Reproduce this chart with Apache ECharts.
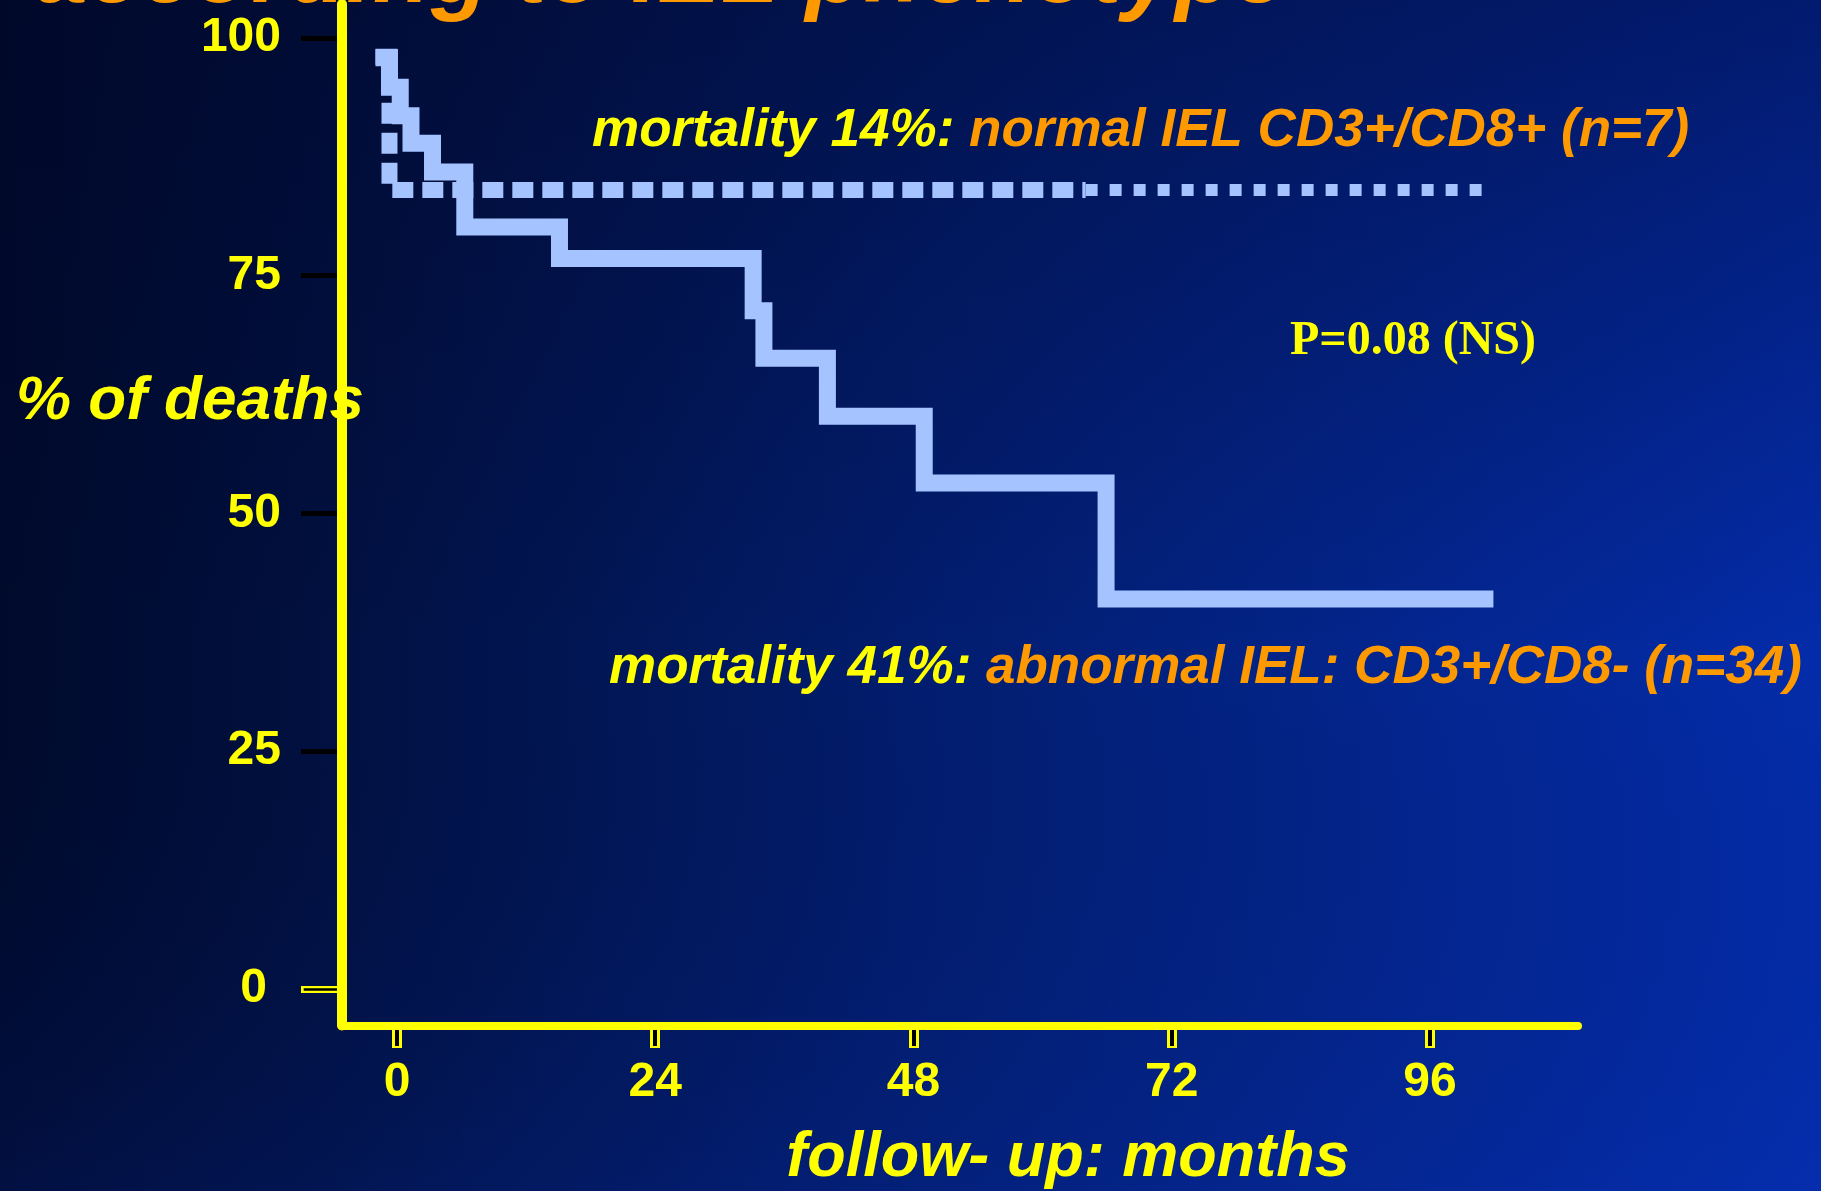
<!DOCTYPE html>
<html>
<head>
<meta charset="utf-8">
<title>Mortality according to IEL phenotype</title>
<script src="https://cdn.jsdelivr.net/npm/echarts@6/dist/echarts.min.js"></script>
<style>
  html, body { margin: 0; padding: 0; background: #010f45; }
  #chart { width: 1821px; height: 1191px; }
</style>
</head>
<body>
<div id="chart"></div>
<script>
// Kaplan-Meier style curves: follow-up month of each step and % still alive after it
const abnormalMonths = [-2.0, -0.7, 0.3, 1.3, 3.3, 6.3, 15.1, 33.1, 34.1, 40.0, 49.0, 65.9, 101.9];
const abnormalPct    = [97.9, 94.8, 91.8, 88.9, 85.9, 80.1, 76.8, 71.3, 66.3, 60.2, 53.2, 41.0, 41.0];
const normalMonths   = [-2.0, -0.7, 100.8];
const normalPct      = [98.0, 84.0, 84.0];

// Axis ticks
const monthTicks = [0, 24, 48, 72, 96];
const pctTicks   = [0, 25, 50, 75, 100];

// Texts
const titleText  = 'according to IEL phenotype';
const yName      = '% of deaths';
const xName      = 'follow- up: months';
const normalNote = ['mortality 14%: ', 'normal IEL CD3+/CD8+ (n=7)'];
const abnormNote = ['mortality 41%: ', 'abnormal IEL: CD3+/CD8- (n=34)'];
const pText      = 'P=0.08 (NS)';

// ---- helpers -------------------------------------------------------------
const zip = (xs, ys) => xs.map((x, i) => [x, ys[i]]);

// the dotted curve changes from long dashes to fine dots at this month
const DASH_SWITCH = 64;
function levelAt(xs, ys, t) {
  let v = ys[0];
  for (let i = 0; i < xs.length; i++) if (xs[i] <= t) v = ys[i];
  return v;
}
const normalPts = zip(normalMonths, normalPct);
const switchLevel = levelAt(normalMonths, normalPct, DASH_SWITCH);
const normalDashed = normalPts.filter(p => p[0] < DASH_SWITCH).concat([[DASH_SWITCH, switchLevel]]);
const normalDotted = [[DASH_SWITCH, switchLevel]].concat(normalPts.filter(p => p[0] > DASH_SWITCH));

const YELLOW = '#FFFF00';
const ORANGE = '#FF9900';
const CURVE  = '#A4C3FF';

const X_MIN = -5.14, X_MAX = 109.76;
const Y_MIN = -3.84, Y_MAX = 103.55;

const labelFont = {
  color: YELLOW,
  fontFamily: '"Liberation Sans", Arial, sans-serif',
  fontWeight: 'bold',
  fontSize: 48
};

function baseX(extra) {
  return Object.assign({
    type: 'value', min: X_MIN, max: X_MAX, position: 'bottom', offset: 0,
    axisLine: { show: false, onZero: false },
    axisTick: { show: false },
    axisLabel: { show: false },
    splitLine: { show: false }
  }, extra);
}
function baseY(extra) {
  return Object.assign({
    type: 'value', min: Y_MIN, max: Y_MAX, position: 'left', offset: 0,
    axisLine: { show: false, onZero: false },
    axisTick: { show: false },
    axisLabel: { show: false },
    splitLine: { show: false }
  }, extra);
}

const italicBold = (size) => ({
  fontFamily: '"Liberation Sans", Arial, sans-serif',
  fontWeight: 'bold',
  fontStyle: 'italic',
  fontSize: size
});

const chart = echarts.init(document.getElementById('chart'), null, { renderer: 'canvas' });

chart.setOption({
  animation: false,
  grid: { left: 341.7, right: 243, top: 4, bottom: 165.5, outerBoundsMode: 'none', containLabel: false },
  xAxis: [
    // yellow tick bodies + month labels
    baseX({
      z: 1,
      axisTick: { show: true, customValues: monthTicks, length: 22.5, lineStyle: { color: YELLOW, width: 10 } },
      axisLabel: Object.assign({ show: true, customValues: monthTicks, margin: 33 }, labelFont)
    }),
    // dark core of each tick
    baseX({
      z: 2,
      axisTick: { show: true, customValues: monthTicks, length: 20.5, lineStyle: { color: '#000000', width: 4 } }
    }),
    // the axis line itself
    baseX({
      z: 3,
      axisLine: { show: true, onZero: false, lineStyle: { color: YELLOW, width: 8 } }
    })
  ],
  yAxis: [
    baseY({
      z: 1,
      axisTick: { show: true, customValues: pctTicks.filter(v => v > 0), length: 40.7, lineStyle: { color: '#000000', width: 5 } },
      axisLabel: Object.assign({ show: true, customValues: pctTicks.filter(v => v > 0), margin: 60.7, padding: [0, 0, 10, 0] }, labelFont)
    }),
    baseY({
      z: 1,
      axisTick: { show: true, customValues: [pctTicks[0]], length: 40.7, lineStyle: { color: YELLOW, width: 7 } },
      axisLabel: Object.assign({ show: true, customValues: [pctTicks[0]], margin: 74.7, padding: [0, 0, 12, 0] }, labelFont)
    }),
    baseY({
      z: 2,
      axisTick: { show: true, customValues: [pctTicks[0]], length: 38, lineStyle: { color: '#000000', width: 2.5 } }
    }),
    baseY({
      z: 3,
      axisLine: { show: true, onZero: false, lineStyle: { color: YELLOW, width: 10 } }
    })
  ],
  series: [
    {
      name: 'abnormal IEL', type: 'line', xAxisIndex: 0, yAxisIndex: 0,
      data: zip(abnormalMonths, abnormalPct), step: 'end',
      symbol: 'none', silent: true, z: 5,
      lineStyle: { color: CURVE, width: 17, cap: 'butt', join: 'miter' }
    },
    {
      name: 'normal IEL', type: 'line', xAxisIndex: 0, yAxisIndex: 0,
      data: normalDashed, step: 'end',
      symbol: 'none', silent: true, z: 4,
      lineStyle: { color: CURVE, width: 16, type: [21, 9], cap: 'butt', join: 'miter' }
    },
    {
      name: 'normal IEL', type: 'line', xAxisIndex: 0, yAxisIndex: 0,
      data: normalDotted, step: 'end',
      symbol: 'none', silent: true, z: 4,
      lineStyle: { color: CURVE, width: 12, type: [12, 12], cap: 'butt', join: 'miter' }
    }
  ],
  graphic: {
    elements: [
      // slide background
      {
        type: 'rect', z: -100, silent: true,
        shape: { x: 0, y: 0, width: 1821, height: 1191 },
        style: {
          fill: new echarts.graphic.LinearGradient(0, 0, 1, 0, [
            { offset: 0.00, color: '#000A2C' },
            { offset: 0.17, color: '#01103F' },
            { offset: 0.50, color: '#021D6E' },
            { offset: 1.00, color: '#042CAA' }
          ])
        }
      },
      {
        type: 'rect', z: -99, silent: true,
        shape: { x: 0, y: 0, width: 1821, height: 1191 },
        style: {
          fill: new echarts.graphic.LinearGradient(0, 0, 0, 1, [
            { offset: 0.00, color: 'rgba(0,6,40,0.45)' },
            { offset: 0.55, color: 'rgba(0,6,40,0)' },
            { offset: 1.00, color: 'rgba(10,50,190,0.15)' }
          ])
        }
      },
      // title line (runs off the top edge)
      {
        type: 'text', z: 10, silent: true,
        style: Object.assign({
          text: titleText, x: 35, y: -24, fill: ORANGE,
          align: 'left', verticalAlign: 'middle',
          shadowColor: '#5A2A00', shadowOffsetX: 2, shadowOffsetY: 3, shadowBlur: 0
        }, italicBold(95))
      },
      // axis names
      {
        type: 'text', z: 10, silent: true,
        style: Object.assign({ text: yName, x: 16, y: 401.5, fill: YELLOW, align: 'left', verticalAlign: 'middle' }, italicBold(62))
      },
      {
        type: 'text', z: 10, silent: true,
        style: Object.assign({ text: xName, x: 1068, y: 1159, fill: YELLOW, align: 'center', verticalAlign: 'middle' }, italicBold(63))
      },
      // curve annotations
      {
        type: 'text', z: 10, silent: true,
        style: Object.assign({
          text: '{a|' + normalNote[0] + '}{b|' + normalNote[1] + '}',
          x: 592, y: 131.5, align: 'left', verticalAlign: 'middle',
          rich: {
            a: Object.assign({ fill: YELLOW }, italicBold(53)),
            b: Object.assign({ fill: ORANGE }, italicBold(53))
          }
        }, italicBold(53))
      },
      {
        type: 'text', z: 10, silent: true,
        style: Object.assign({
          text: '{a|' + abnormNote[0] + '}{b|' + abnormNote[1] + '}',
          x: 609, y: 668.3, align: 'left', verticalAlign: 'middle',
          rich: {
            a: Object.assign({ fill: YELLOW }, italicBold(53)),
            b: Object.assign({ fill: ORANGE }, italicBold(53))
          }
        }, italicBold(53))
      },
      {
        type: 'text', z: 10, silent: true,
        style: {
          text: pText, x: 1290, y: 341.5, fill: YELLOW, align: 'left', verticalAlign: 'middle',
          fontFamily: '"Liberation Serif", "Times New Roman", serif', fontWeight: 'bold', fontSize: 48
        }
      }
    ]
  }
});
</script>
</body>
</html>
